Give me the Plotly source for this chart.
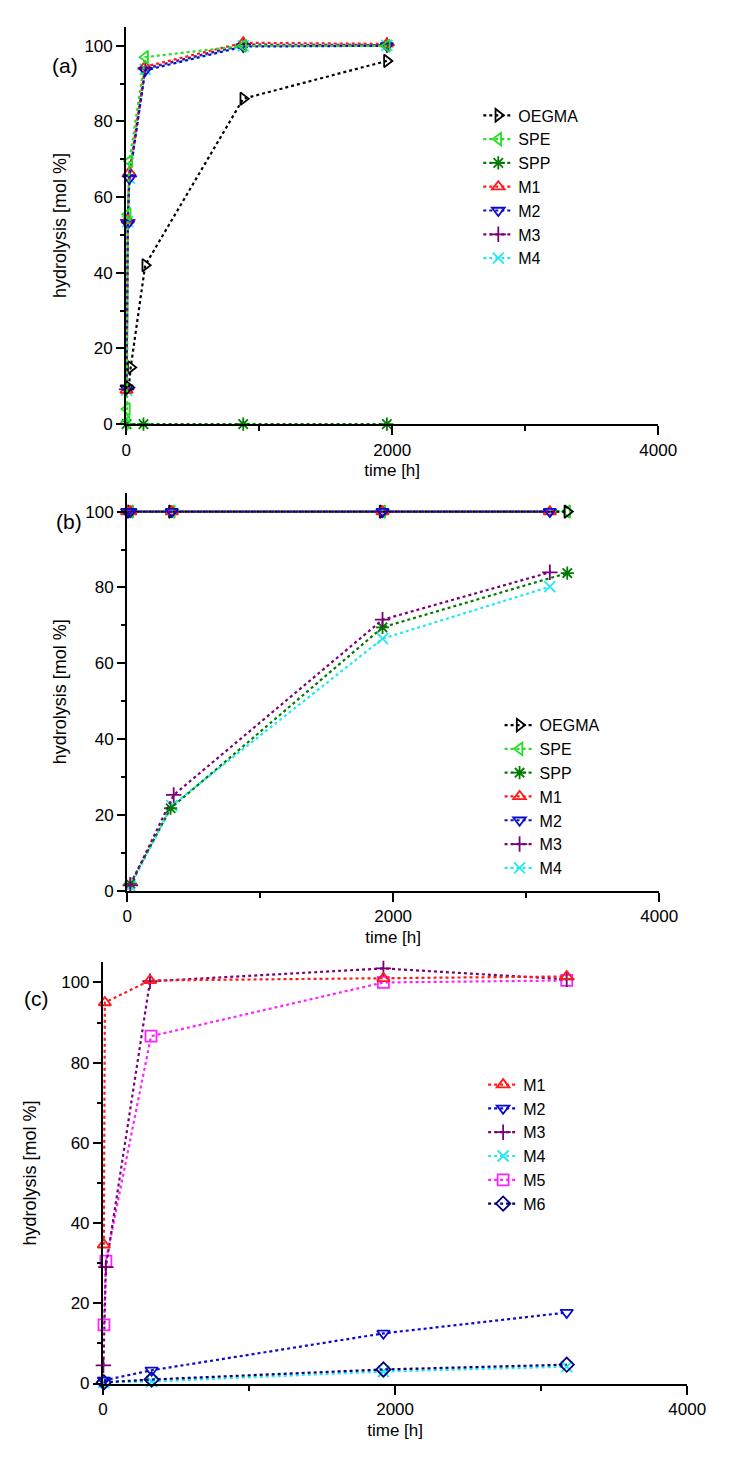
import plotly.graph_objects as go

# ---------------- data ----------------
# panel (a)
a_oegma_t = [20, 34, 143, 880, 1960]
a_oegma_y = [9.7, 15, 42, 86, 96]
a_spe_t = [3, 6, 12, 24, 143, 880, 1960]
a_spe_y = [0.5, 4, 55.5, 69.5, 97, 100, 100]
a_spp_t = [3, 130, 880, 1960]
a_spp_y = [0, 0, 0, 0]
a_m1_t = [3, 12, 24, 143, 880, 1960]
a_m1_y = [9, 54, 66.5, 94.5, 100.8, 100.5]
a_m2_t = [3, 12, 24, 143, 880, 1960]
a_m2_y = [9.5, 53, 65, 93.5, 99.8, 100]
a_m3_t = [3, 12, 24, 143, 880, 1960]
a_m3_y = [9.2, 54, 65.5, 94, 100.3, 100.2]
a_m4_t = [3, 12, 24, 143, 880, 1960]
a_m4_y = [9, 53.5, 65, 93.8, 100, 100.1]

# panel (b)
b_oegma_t = [24, 336, 1920, 3309]
b_oegma_y = [100, 100, 100, 100]
b_spe_t = [24, 336, 1920, 3309]
b_spe_y = [100, 100, 100, 100]
b_spp_t = [24, 327, 1920, 3309]
b_spp_y = [1.9, 21.8, 69.5, 83.8]
b_m1_t = [0, 24, 336, 1920, 3178]
b_m1_y = [100, 100, 100, 100, 100]
b_m2_t = [0, 24, 336, 1920, 3178]
b_m2_y = [100, 100, 100, 100, 100]
b_m3_t = [24, 350, 1920, 3178]
b_m3_y = [1.5, 25.3, 71.5, 84]
b_m4_t = [24, 336, 1920, 3178]
b_m4_y = [1.2, 22.5, 66.5, 80.2]

# panel (c)
c_m1_t = [6, 13, 322, 1920, 3175]
c_m1_y = [34.6, 95, 100.5, 101, 101.5]
c_m2_t = [6, 333, 1920, 3175]
c_m2_y = [0.8, 3.3, 12.5, 17.7]
c_m3_t = [3, 20, 322, 1920, 3175]
c_m3_y = [4.5, 29, 100.3, 103.5, 100.8]
c_m4_t = [6, 333, 1920, 3175]
c_m4_y = [0.3, 0.5, 3, 4.2]
c_m5_t = [7, 20, 329, 1920, 3175]
c_m5_y = [14.6, 30.5, 86.6, 100, 100.5]
c_m6_t = [6, 333, 1920, 3175]
c_m6_y = [0.3, 1.0, 3.5, 4.7]

x_ticks = [0, 2000, 4000]
y_ticks = [0, 20, 40, 60, 80, 100]

# ---------------- styles ----------------
STYLE = {
    "OEGMA": ("#000000", "triangle-right-open"),
    "SPE": ("#22e022", "triangle-left-open"),
    "SPP": ("#007a00", "asterisk-open"),
    "M1": ("#ff1a1a", "triangle-up-open"),
    "M2": ("#0a0acc", "triangle-down-open"),
    "M3": ("#7a007a", "cross-thin-open"),
    "M4": ("#22e8f0", "x-thin-open"),
    "M5": ("#ff22ff", "square-open"),
    "M6": ("#00007a", "diamond-open"),
}
RANK = {"OEGMA": 1, "SPE": 2, "SPP": 3, "M1": 4, "M2": 5, "M3": 6, "M4": 7, "M5": 8, "M6": 9}

FONT = "Liberation Sans, Arial, sans-serif"
fig = go.Figure()


def add(name, t, y, ax, legend):
    col, sym = STYLE[name]
    fig.add_trace(go.Scatter(
        x=t, y=y, name=name, mode="lines+markers",
        line=dict(color=col, width=2.2, dash="dot"),
        marker=dict(symbol=sym, size=11, color=col, line=dict(color=col, width=1.8)),
        xaxis="x" + ax, yaxis="y" + ax, legend=legend,
        legendrank=RANK[name], cliponaxis=False,
    ))


# panel a (drawing order chosen so hidden series lie underneath)
add("M4", a_m4_t, a_m4_y, "", "legend")
add("M3", a_m3_t, a_m3_y, "", "legend")
add("M1", a_m1_t, a_m1_y, "", "legend")
add("M2", a_m2_t, a_m2_y, "", "legend")
add("SPP", a_spp_t, a_spp_y, "", "legend")
add("OEGMA", a_oegma_t, a_oegma_y, "", "legend")
add("SPE", a_spe_t, a_spe_y, "", "legend")

# panel b
add("SPE", b_spe_t, b_spe_y, "2", "legend2")
add("OEGMA", b_oegma_t, b_oegma_y, "2", "legend2")
add("M1", b_m1_t, b_m1_y, "2", "legend2")
add("M2", b_m2_t, b_m2_y, "2", "legend2")
add("M4", b_m4_t, b_m4_y, "2", "legend2")
add("SPP", b_spp_t, b_spp_y, "2", "legend2")
add("M3", b_m3_t, b_m3_y, "2", "legend2")

# panel c
add("M4", c_m4_t, c_m4_y, "3", "legend3")
add("M6", c_m6_t, c_m6_y, "3", "legend3")
add("M2", c_m2_t, c_m2_y, "3", "legend3")
add("M5", c_m5_t, c_m5_y, "3", "legend3")
add("M3", c_m3_t, c_m3_y, "3", "legend3")
add("M1", c_m1_t, c_m1_y, "3", "legend3")

W, H = 735, 1461


def xd(l, r):
    return [l / W, r / W]


def yd(bottom, top):
    return [1 - bottom / H, 1 - top / H]


def xaxis(dom, anchor):
    return dict(
        domain=dom, anchor=anchor, range=[0, 4000], tickvals=x_ticks,
        showgrid=False, zeroline=False, showline=True, linecolor="black", linewidth=2,
        ticks="outside", ticklen=9, tickwidth=2, tickcolor="black",
        minor=dict(dtick=1000, ticklen=5, tickwidth=2, tickcolor="black", ticks="outside"),
        tickfont=dict(family=FONT, size=17, color="black"),
        title=dict(text="time [h]", font=dict(family=FONT, size=17, color="black"), standoff=6),
    )


def yaxis(dom, anchor, standoff):
    return dict(
        domain=dom, anchor=anchor, range=[0, 105], tickvals=y_ticks,
        showgrid=False, zeroline=False, showline=True, linecolor="black", linewidth=2,
        ticks="outside", ticklen=8, tickwidth=2, tickcolor="black",
        minor=dict(tickvals=[10, 30, 50, 70, 90], ticklen=4, tickwidth=2, tickcolor="black", ticks="outside"),
        tickfont=dict(family=FONT, size=17, color="black"),
        title=dict(text="hydrolysis [mol %]", font=dict(family=FONT, size=18, color="black"),
                   standoff=standoff),
    )


def legend(x, y):
    return dict(
        x=x / W, y=1 - y / H, xanchor="left", yanchor="top", xref="paper", yref="paper",
        bgcolor="rgba(0,0,0,0)", font=dict(family=FONT, size=16, color="black"),
        tracegroupgap=0, itemwidth=30, traceorder="normal",
    )


fig.update_layout(
    width=W, height=H, margin=dict(l=0, r=0, t=0, b=0),
    plot_bgcolor="white", paper_bgcolor="white",
    font=dict(family=FONT, color="black"),
    xaxis=xaxis(xd(117, 667), "y"), yaxis=yaxis(yd(419, 19), "x", 13),
    xaxis2=xaxis(xd(118, 668), "y2"), yaxis2=yaxis(yd(889, 488), "x2", 14),
    xaxis3=xaxis(xd(93, 697), "y3"), yaxis3=yaxis(yd(1385, 961), "x3", 20),
    legend=legend(481, 91),
    legend2=legend(503, 705),
    legend3=legend(486, 1067),
    showlegend=True,
)

for txt, x, y in [("(a)", 54, 58), ("(b)", 58, 517), ("(c)", 24, 997)]:
    fig.add_annotation(text=txt, x=x / W, y=1 - y / H, xref="paper", yref="paper",
                       showarrow=False, xanchor="center", yanchor="middle",
                       font=dict(family=FONT, size=21, color="black"))

fig.write_html("out.html")
